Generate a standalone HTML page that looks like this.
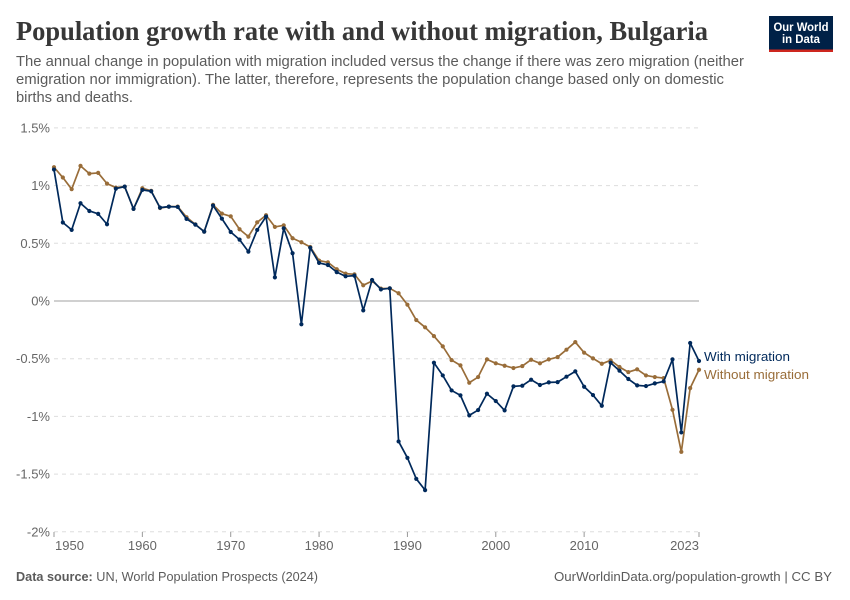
<!DOCTYPE html>
<html lang="en">
<head>
<meta charset="utf-8">
<title>Population growth rate with and without migration, Bulgaria</title>
<style>
html,body{margin:0;padding:0;background:#fff;}
svg{display:block;font-family:"Liberation Sans",sans-serif;}
</style>
</head>
<body>
<svg id="chart" xmlns="http://www.w3.org/2000/svg" width="850" height="600" viewBox="0 0 850 600">
  <rect x="0" y="0" width="850" height="600" fill="#ffffff"/>
  <text x="16" y="40" font-family="'Liberation Serif',serif" font-weight="bold" font-size="27" fill="#373737" textLength="692" lengthAdjust="spacingAndGlyphs">Population growth rate with and without migration, Bulgaria</text>
  <g font-size="14.5" fill="#5b5b5b">
    <text x="16" y="66" textLength="728" lengthAdjust="spacingAndGlyphs">The annual change in population with migration included versus the change if there was zero migration (neither</text>
    <text x="16" y="84" textLength="708" lengthAdjust="spacingAndGlyphs">emigration nor immigration). The latter, therefore, represents the population change based only on domestic</text>
    <text x="16" y="102" textLength="117" lengthAdjust="spacingAndGlyphs">births and deaths.</text>
  </g>
  <g>
    <rect x="769" y="16" width="64" height="36" fill="#002147"/>
    <rect x="769" y="49.5" width="64" height="2.5" fill="#ce261e"/>
    <text x="801" y="31" font-size="11.5" font-weight="bold" fill="#ffffff" text-anchor="middle" textLength="55" lengthAdjust="spacingAndGlyphs">Our World</text>
    <text x="801" y="43" font-size="11.5" font-weight="bold" fill="#ffffff" text-anchor="middle" textLength="38" lengthAdjust="spacingAndGlyphs">in Data</text>
  </g>
  <g id="grid"></g>
  <g id="yTicks" font-size="13" fill="#666666"></g>
  <g id="xTicks" font-size="13" fill="#666666"></g>
  <g id="series"></g>
  <text x="704" y="361" font-size="13" fill="#00295b" textLength="86" lengthAdjust="spacingAndGlyphs">With migration</text>
  <text x="704" y="379" font-size="13" fill="#996d39" textLength="105" lengthAdjust="spacingAndGlyphs">Without migration</text>
  <text x="16" y="581" font-size="13" fill="#5b5b5b" textLength="302" lengthAdjust="spacingAndGlyphs"><tspan font-weight="bold">Data source:</tspan> UN, World Population Prospects (2024)</text>
  <text x="832" y="581" font-size="13" fill="#5b5b5b" text-anchor="end" textLength="278" lengthAdjust="spacingAndGlyphs">OurWorldinData.org/population-growth | CC BY</text>
</svg>
<script>
const startYear = 1950;
const endYear = 2023;
const yTickValues = [-2, -1.5, -1, -0.5, 0, 0.5, 1, 1.5];
const yTickLabels = ["-2%", "-1.5%", "-1%", "-0.5%", "0%", "0.5%", "1%", "1.5%"];
const xTickYears = [1950, 1960, 1970, 1980, 1990, 2000, 2010, 2023];
const withMigration = [
  1.139, 0.68, 0.616, 0.847, 0.78, 0.755, 0.665, 0.974, 0.991, 0.798,
  0.963, 0.951, 0.809, 0.818, 0.815, 0.711, 0.662, 0.601, 0.827, 0.714,
  0.598, 0.532, 0.428, 0.616, 0.731, 0.205, 0.63, 0.414, -0.202, 0.462,
  0.33, 0.312, 0.25, 0.214, 0.22, -0.081, 0.182, 0.101, 0.11, -1.217,
  -1.359, -1.541, -1.639, -0.535, -0.645, -0.775, -0.818, -0.991, -0.945, -0.804,
  -0.867, -0.948, -0.74, -0.734, -0.682, -0.728, -0.705, -0.703, -0.656, -0.61,
  -0.743, -0.815, -0.908, -0.535, -0.604, -0.676, -0.731, -0.737, -0.714, -0.697,
  -0.506, -1.139, -0.364, -0.52
];
const withoutMigration = [
  1.159, 1.07, 0.969, 1.171, 1.104, 1.11, 1.017, 0.983, 0.991, 0.798,
  0.977, 0.955, 0.806, 0.818, 0.818, 0.726, 0.664, 0.601, 0.833, 0.757,
  0.734, 0.622, 0.558, 0.682, 0.743, 0.642, 0.656, 0.544, 0.509, 0.468,
  0.35, 0.335, 0.275, 0.237, 0.231, 0.136, 0.173, 0.107, 0.11, 0.067,
  -0.032, -0.165, -0.228, -0.304, -0.393, -0.512, -0.558, -0.708, -0.659, -0.506,
  -0.54, -0.561, -0.581, -0.564, -0.509, -0.54, -0.506, -0.486, -0.422, -0.356,
  -0.448, -0.497, -0.544, -0.514, -0.572, -0.616, -0.592, -0.645, -0.659, -0.668,
  -0.943, -1.307, -0.755, -0.596
];

const NS = "http://www.w3.org/2000/svg";
const plotLeft = 54, plotRight = 699;
const zeroY = 301, pxPerPercent = 115.4;
function xScale(year) { return plotLeft + (year - startYear) * (plotRight - plotLeft) / (endYear - startYear); }
function yScale(v) { return zeroY - v * pxPerPercent; }
function make(tag, attrs) {
  const el = document.createElementNS(NS, tag);
  for (const k in attrs) el.setAttribute(k, attrs[k]);
  return el;
}

const grid = document.getElementById("grid");
const yAxis = document.getElementById("yTicks");
const xAxis = document.getElementById("xTicks");
const seriesGroup = document.getElementById("series");

yTickValues.forEach(function (v, i) {
  if (v !== 0) {
    const line = make("line", { x1: plotLeft, x2: plotRight, y1: yScale(v), y2: yScale(v), stroke: "#dddddd", "stroke-dasharray": "4 4", "stroke-width": 1 });
    
    
    grid.appendChild(line);
  }
  const label = make("text", { x: 50, y: yScale(v) + 4.5, "text-anchor": "end" });
  
  
  label.textContent = yTickLabels[i];
  yAxis.appendChild(label);
});

const zeroLine = make("line", { x1: plotLeft, x2: plotRight, y1: yScale(0), y2: yScale(0), stroke: "#a1a1a1", "stroke-width": 1 });


grid.appendChild(zeroLine);

xTickYears.forEach(function (yr) {
  const px = xScale(yr);
  const tick = make("line", { x1: px, x2: px, y1: 532, y2: 537, stroke: "#999999", "stroke-width": 1 });
  
  
  xAxis.appendChild(tick);
  let anchor = "middle", lx = px;
  if (yr === startYear) { anchor = "start"; lx = px + 1; }
  if (yr === endYear) { anchor = "end"; }
  const label = make("text", { x: lx, y: 550, "text-anchor": anchor });
  
  
  label.textContent = String(yr);
  xAxis.appendChild(label);
});

function drawSeries(values, color, name) {
  const g = make("g", {});
  
  
  const pts = values.map(function (v, i) { return xScale(startYear + i).toFixed(2) + "," + yScale(v).toFixed(2); }).join(" ");
  const line = make("polyline", { points: pts, fill: "none", stroke: color, "stroke-width": 1.7, "stroke-linejoin": "round" });
  
  
  g.appendChild(line);
  values.forEach(function (v, i) {
    const dot = make("circle", { cx: xScale(startYear + i), cy: yScale(v), r: 2.1, fill: color });
    
    
    g.appendChild(dot);
  });
  seriesGroup.appendChild(g);
}
drawSeries(withoutMigration, "#996d39", "without-migration-series");
drawSeries(withMigration, "#00295b", "with-migration-series");
</script>
</body>
</html>
